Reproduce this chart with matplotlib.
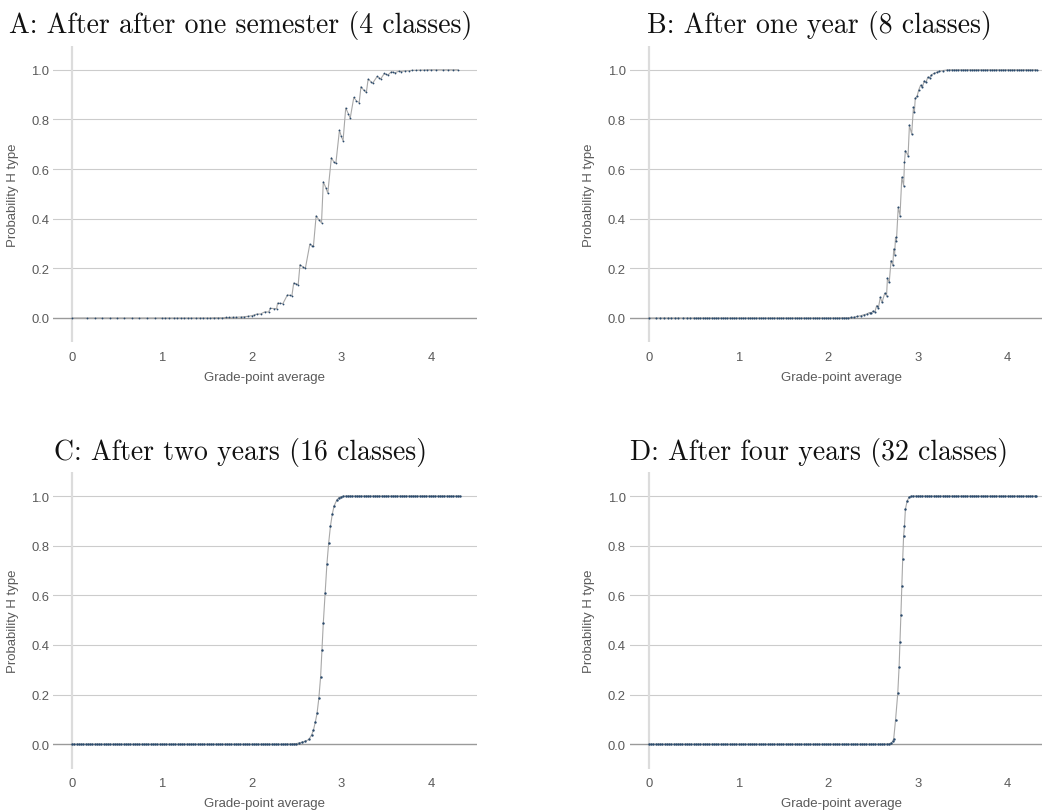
import matplotlib
matplotlib.use("Agg")
import matplotlib.pyplot as plt

plt.rcParams['font.family'] = ['Liberation Sans', 'DejaVu Sans']

titles = ["A: After after one semester (4 classes)",
          "B: After one year (8 classes)",
          "C: After two years (16 classes)",
          "D: After four years (32 classes)"]

# ---- panel A: 4 classes ----
gpa_a = [0.00, 0.17, 0.25, 0.33, 0.42, 0.50, 0.58, 0.67, 0.75, 0.83, 0.92,
         1.00, 1.04, 1.08, 1.13, 1.17, 1.21, 1.25, 1.29, 1.33, 1.38, 1.42,
         1.46, 1.50, 1.54, 1.58, 1.63, 1.67, 1.71, 1.75, 1.79, 1.83, 1.88,
         1.92, 1.96, 2.00, 2.03, 2.06, 2.10, 2.15, 2.19, 2.21, 2.25, 2.28,
         2.29, 2.32, 2.35, 2.40, 2.43, 2.45, 2.47, 2.50, 2.52, 2.54, 2.57,
         2.60, 2.65, 2.67, 2.69, 2.72, 2.75, 2.78, 2.80, 2.83, 2.85, 2.89,
         2.92, 2.94, 2.98, 3.00, 3.02, 3.05, 3.08, 3.10, 3.14, 3.17, 3.20,
         3.22, 3.25, 3.28, 3.30, 3.33, 3.35, 3.40, 3.42, 3.44, 3.48, 3.50,
         3.52, 3.56, 3.58, 3.60, 3.64, 3.67, 3.71, 3.75, 3.79, 3.83, 3.88,
         3.92, 3.96, 4.00, 4.06, 4.13, 4.19, 4.25, 4.30]
prob_a = [0.000, 0.000, 0.000, 0.000, 0.000, 0.000, 0.000, 0.000, 0.000, 0.000, 0.000,
          0.000, 0.000, 0.000, 0.000, 0.000, 0.000, 0.000, 0.000, 0.000, 0.000, 0.000,
          0.000, 0.000, 0.000, 0.001, 0.001, 0.001, 0.002, 0.002, 0.003, 0.003, 0.004,
          0.005, 0.007, 0.009, 0.012, 0.016, 0.016, 0.025, 0.024, 0.039, 0.038, 0.038,
          0.060, 0.059, 0.058, 0.093, 0.091, 0.090, 0.141, 0.137, 0.134, 0.215, 0.206,
          0.200, 0.298, 0.292, 0.289, 0.412, 0.396, 0.383, 0.549, 0.523, 0.503, 0.646,
          0.627, 0.623, 0.757, 0.732, 0.714, 0.846, 0.822, 0.805, 0.889, 0.874, 0.868,
          0.932, 0.918, 0.909, 0.963, 0.952, 0.946, 0.973, 0.968, 0.963, 0.985, 0.981,
          0.979, 0.992, 0.990, 0.988, 0.994, 0.993, 0.996, 0.996, 0.998, 0.998, 0.999,
          0.999, 1.000, 1.000, 1.000, 1.000, 1.000, 1.000, 1.000]

# ---- panel B: 8 classes ----
gpa_b = [0.00, 0.08, 0.13, 0.17, 0.21, 0.25, 0.29, 0.33, 0.38, 0.42, 0.46,
         0.500, 0.525, 0.550, 0.575, 0.600, 0.625, 0.650, 0.675, 0.700, 0.725,
         0.750, 0.775, 0.800, 0.825, 0.850, 0.875, 0.900, 0.925, 0.950, 0.975,
         1.000, 1.025, 1.050, 1.075, 1.100, 1.125, 1.150, 1.175, 1.200, 1.225,
         1.250, 1.275, 1.300, 1.325, 1.350, 1.375, 1.400, 1.425, 1.450, 1.475,
         1.500, 1.525, 1.550, 1.575, 1.600, 1.625, 1.650, 1.675, 1.700, 1.725,
         1.750, 1.775, 1.800, 1.825, 1.850, 1.875, 1.900, 1.925, 1.950, 1.975,
         2.000, 2.025, 2.050, 2.075, 2.100, 2.125, 2.150, 2.175, 2.200, 2.225,
         2.250, 2.29, 2.32, 2.36, 2.40, 2.43, 2.46, 2.48, 2.50, 2.52, 2.54,
         2.56, 2.58, 2.60, 2.63, 2.65, 2.66, 2.68, 2.70, 2.72, 2.73, 2.74,
         2.75, 2.76, 2.78, 2.80, 2.82, 2.84, 2.85, 2.86, 2.89, 2.905, 2.93,
         2.95, 2.96, 2.97, 2.99, 3.01, 3.03, 3.05, 3.07, 3.09, 3.11, 3.13,
         3.15, 3.18, 3.21, 3.24, 3.28, 3.32,
         3.350, 3.375, 3.400, 3.425, 3.450, 3.475, 3.500, 3.525, 3.550, 3.575,
         3.600, 3.625, 3.650, 3.675, 3.700, 3.725, 3.750, 3.775, 3.800, 3.825,
         3.850, 3.875, 3.900, 3.925, 3.950, 3.975, 4.000, 4.025, 4.050, 4.075,
         4.100, 4.125, 4.150, 4.175, 4.200, 4.225, 4.250, 4.275, 4.300, 4.325]
prob_b = [0, 0, 0, 0, 0, 0, 0, 0, 0, 0, 0,
          0, 0, 0, 0, 0, 0, 0, 0, 0, 0,
          0, 0, 0, 0, 0, 0, 0, 0, 0, 0,
          0, 0, 0, 0, 0, 0, 0, 0, 0, 0,
          0, 0, 0, 0, 0, 0, 0, 0, 0, 0,
          0, 0, 0, 0, 0, 0, 0, 0, 0, 0,
          0, 0, 0, 0, 0, 0, 0, 0, 0, 0,
          0, 0, 0, 0, 0, 0, 0.001, 0.001, 0.001, 0.001,
          0.002, 0.003, 0.006, 0.009, 0.013, 0.016, 0.022, 0.020, 0.028, 0.025, 0.050,
          0.042, 0.083, 0.063, 0.100, 0.090, 0.160, 0.144, 0.231, 0.213, 0.278, 0.255,
          0.325, 0.310, 0.446, 0.412, 0.567, 0.533, 0.627, 0.674, 0.654, 0.777, 0.741,
          0.849, 0.828, 0.885, 0.893, 0.920, 0.938, 0.930, 0.955, 0.950, 0.970, 0.968,
          0.980, 0.985, 0.990, 0.994, 0.997, 0.999,
          1, 1, 1, 1, 1, 1, 1, 1, 1, 1,
          1, 1, 1, 1, 1, 1, 1, 1, 1, 1,
          1, 1, 1, 1, 1, 1, 1, 1, 1, 1,
          1, 1, 1, 1, 1, 1, 1, 1, 1, 1]

# ---- panel C: 16 classes ----
gpa_c = [0.000, 0.025, 0.050, 0.075, 0.100, 0.125, 0.150, 0.175, 0.200, 0.225,
         0.250, 0.275, 0.300, 0.325, 0.350, 0.375, 0.400, 0.425, 0.450, 0.475,
         0.500, 0.525, 0.550, 0.575, 0.600, 0.625, 0.650, 0.675, 0.700, 0.725,
         0.750, 0.775, 0.800, 0.825, 0.850, 0.875, 0.900, 0.925, 0.950, 0.975,
         1.000, 1.025, 1.050, 1.075, 1.100, 1.125, 1.150, 1.175, 1.200, 1.225,
         1.250, 1.275, 1.300, 1.325, 1.350, 1.375, 1.400, 1.425, 1.450, 1.475,
         1.500, 1.525, 1.550, 1.575, 1.600, 1.625, 1.650, 1.675, 1.700, 1.725,
         1.750, 1.775, 1.800, 1.825, 1.850, 1.875, 1.900, 1.925, 1.950, 1.975,
         2.000, 2.025, 2.050, 2.075, 2.100, 2.125, 2.150, 2.175, 2.200, 2.225,
         2.250, 2.275, 2.300, 2.325, 2.350, 2.375, 2.400, 2.425, 2.450, 2.475,
         2.500, 2.53, 2.56, 2.60, 2.64, 2.67, 2.69, 2.71, 2.73, 2.75,
         2.77, 2.785, 2.80, 2.82, 2.84, 2.86, 2.88, 2.90, 2.92, 2.95,
         2.975, 3.000, 3.025, 3.050, 3.075, 3.100, 3.125, 3.150, 3.175, 3.200,
         3.225, 3.250, 3.275, 3.300, 3.325, 3.350, 3.375, 3.400, 3.425, 3.450,
         3.475, 3.500, 3.525, 3.550, 3.575, 3.600, 3.625, 3.650, 3.675, 3.700,
         3.725, 3.750, 3.775, 3.800, 3.825, 3.850, 3.875, 3.900, 3.925, 3.950,
         3.975, 4.000, 4.025, 4.050, 4.075, 4.100, 4.125, 4.150, 4.175, 4.200,
         4.225, 4.250, 4.275, 4.300, 4.325]
prob_c = [0, 0, 0, 0, 0, 0, 0, 0, 0, 0,
          0, 0, 0, 0, 0, 0, 0, 0, 0, 0,
          0, 0, 0, 0, 0, 0, 0, 0, 0, 0,
          0, 0, 0, 0, 0, 0, 0, 0, 0, 0,
          0, 0, 0, 0, 0, 0, 0, 0, 0, 0,
          0, 0, 0, 0, 0, 0, 0, 0, 0, 0,
          0, 0, 0, 0, 0, 0, 0, 0, 0, 0,
          0, 0, 0, 0, 0, 0, 0, 0, 0, 0,
          0, 0, 0, 0, 0, 0, 0, 0, 0, 0,
          0, 0, 0, 0, 0, 0, 0.001, 0.001, 0.001, 0.002,
          0.003, 0.005, 0.008, 0.012, 0.020, 0.038, 0.057, 0.088, 0.124, 0.185,
          0.272, 0.380, 0.489, 0.610, 0.725, 0.812, 0.880, 0.927, 0.960, 0.984,
          0.994, 0.998, 0.999, 1, 1, 1, 1, 1, 1, 1,
          1, 1, 1, 1, 1, 1, 1, 1, 1, 1,
          1, 1, 1, 1, 1, 1, 1, 1, 1, 1,
          1, 1, 1, 1, 1, 1, 1, 1, 1, 1,
          1, 1, 1, 1, 1, 1, 1, 1, 1, 1,
          1, 1, 1, 1, 1]

# ---- panel D: 32 classes ----
gpa_d = [0.000, 0.025, 0.050, 0.075, 0.100, 0.125, 0.150, 0.175, 0.200, 0.225,
         0.250, 0.275, 0.300, 0.325, 0.350, 0.375, 0.400, 0.425, 0.450, 0.475,
         0.500, 0.525, 0.550, 0.575, 0.600, 0.625, 0.650, 0.675, 0.700, 0.725,
         0.750, 0.775, 0.800, 0.825, 0.850, 0.875, 0.900, 0.925, 0.950, 0.975,
         1.000, 1.025, 1.050, 1.075, 1.100, 1.125, 1.150, 1.175, 1.200, 1.225,
         1.250, 1.275, 1.300, 1.325, 1.350, 1.375, 1.400, 1.425, 1.450, 1.475,
         1.500, 1.525, 1.550, 1.575, 1.600, 1.625, 1.650, 1.675, 1.700, 1.725,
         1.750, 1.775, 1.800, 1.825, 1.850, 1.875, 1.900, 1.925, 1.950, 1.975,
         2.000, 2.025, 2.050, 2.075, 2.100, 2.125, 2.150, 2.175, 2.200, 2.225,
         2.250, 2.275, 2.300, 2.325, 2.350, 2.375, 2.400, 2.425, 2.450, 2.475,
         2.500, 2.525, 2.550, 2.575, 2.600, 2.625, 2.650, 2.68, 2.70, 2.72,
         2.73, 2.75, 2.775, 2.79, 2.80, 2.81, 2.82, 2.83, 2.84, 2.85,
         2.86, 2.88, 2.90, 2.92, 2.950, 2.975, 3.000, 3.025, 3.050, 3.075,
         3.100, 3.125, 3.150, 3.175, 3.200, 3.225, 3.250, 3.275, 3.300, 3.325,
         3.350, 3.375, 3.400, 3.425, 3.450, 3.475, 3.500, 3.525, 3.550, 3.575,
         3.600, 3.625, 3.650, 3.675, 3.700, 3.725, 3.750, 3.775, 3.800, 3.825,
         3.850, 3.875, 3.900, 3.925, 3.950, 3.975, 4.000, 4.025, 4.050, 4.075,
         4.100, 4.125, 4.150, 4.175, 4.200, 4.225, 4.250, 4.275, 4.300, 4.315]
prob_d = [0, 0, 0, 0, 0, 0, 0, 0, 0, 0,
          0, 0, 0, 0, 0, 0, 0, 0, 0, 0,
          0, 0, 0, 0, 0, 0, 0, 0, 0, 0,
          0, 0, 0, 0, 0, 0, 0, 0, 0, 0,
          0, 0, 0, 0, 0, 0, 0, 0, 0, 0,
          0, 0, 0, 0, 0, 0, 0, 0, 0, 0,
          0, 0, 0, 0, 0, 0, 0, 0, 0, 0,
          0, 0, 0, 0, 0, 0, 0, 0, 0, 0,
          0, 0, 0, 0, 0, 0, 0, 0, 0, 0,
          0, 0, 0, 0, 0, 0, 0, 0, 0, 0,
          0, 0, 0, 0, 0, 0.001, 0.001, 0.002, 0.005, 0.012,
          0.023, 0.097, 0.205, 0.313, 0.414, 0.522, 0.637, 0.745, 0.839, 0.880,
          0.947, 0.981, 0.995, 0.999, 1, 1, 1, 1, 1, 1,
          1, 1, 1, 1, 1, 1, 1, 1, 1, 1,
          1, 1, 1, 1, 1, 1, 1, 1, 1, 1,
          1, 1, 1, 1, 1, 1, 1, 1, 1, 1,
          1, 1, 1, 1, 1, 1, 1, 1, 1, 1,
          1, 1, 1, 1, 1, 1, 1, 1, 1, 1]

panels = [(gpa_a, prob_a), (gpa_b, prob_b), (gpa_c, prob_c), (gpa_d, prob_d)]
dot_sizes = [1.3, 1.5, 1.75, 1.75]

W, H = 1042, 812
fig = plt.figure(figsize=(W / 100, H / 100), dpi=100)

ax_w, ax_h = 423.4, 296.6
lefts = [53.3, 630.0, 53.3, 630.0]
tops = [46.7, 46.7, 473.0, 473.0]
title_x = [241, 819, 241, 819]
title_base = [33.3, 33.3, 459.6, 459.6]

grey = '#5a5a5a'
for i, (xs, ys) in enumerate(panels):
    ax = fig.add_axes([lefts[i] / W, 1 - (tops[i] + ax_h) / H, ax_w / W, ax_h / H])
    for s in ax.spines.values():
        s.set_visible(False)
    for g in [0.2, 0.4, 0.6, 0.8, 1.0]:
        ax.axhline(g, color='#cccccc', lw=0.8, zorder=0)
    ax.axhline(0, color='#9a9a9a', lw=1.0, zorder=1)
    ax.axvline(0, color='#dcdcdc', lw=1.6, zorder=0)
    ax.plot(xs, ys, color='#a8a8a8', lw=0.8, zorder=2)
    ax.plot(xs, ys, ls='none', marker='o', ms=dot_sizes[i],
            mfc='#2a4a6c', mec='#2a4a6c', mew=0, zorder=3)
    ax.set_xlim(-0.21, 4.51)
    ax.set_ylim(-0.098, 1.097)
    ax.set_xticks([0, 1, 2, 3, 4])
    ax.set_yticks([0.0, 0.2, 0.4, 0.6, 0.8, 1.0])
    ax.set_yticklabels(['0.0', '0.2', '0.4', '0.6', '0.8', '1.0'])
    ax.tick_params(length=0, labelsize=9.4, labelcolor=grey, pad=3)
    ax.tick_params(axis='x', pad=6)
    ax.set_xlabel('Grade-point average', fontsize=9.5, color=grey)
    ax.xaxis.set_label_coords(0.5, -(378 - 343.3) / ax_h)
    ax.xaxis.label.set_va('center')
    ax.set_ylabel('Probability H type', fontsize=9.5, color=grey)
    ax.yaxis.set_label_coords(-40.6 / ax_w, 0.5)
    ax.yaxis.label.set_va('center')
    fig.text(title_x[i] / W, 1 - title_base[i] / H, titles[i], ha='center',
             va='baseline', fontsize=20, family='cmr10', color='#111111')

fig.savefig('out.png', dpi=100)
